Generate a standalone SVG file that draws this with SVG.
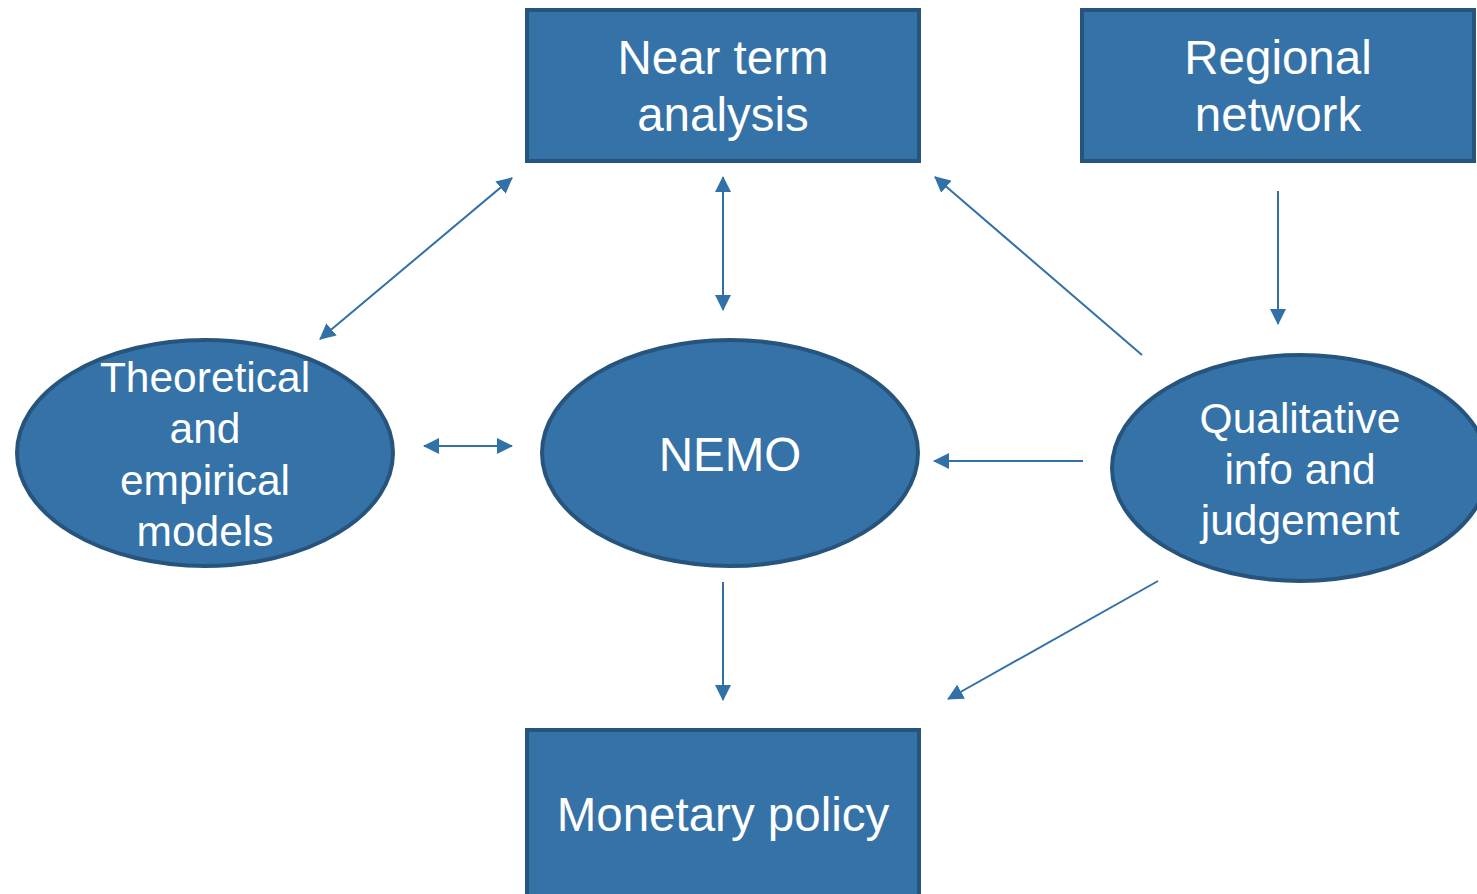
<svg xmlns="http://www.w3.org/2000/svg" width="1477" height="894" viewBox="0 0 1477 894">
  <style>
    .box { fill: #3572a7; stroke: #27547c; stroke-width: 4; }
    .lbl { fill: #ffffff; font-family: "Liberation Sans", Arial, sans-serif; text-anchor: middle; }
    .big { font-size: 47.5px; }
    .small { font-size: 42.5px; }
    .conn { stroke: #3270a8; stroke-width: 2; fill: none; }
  </style>
  <defs>
    <marker id="head" viewBox="0 0 16 16" refX="15" refY="8" markerWidth="16" markerHeight="16" markerUnits="userSpaceOnUse" orient="auto-start-reverse">
      <path d="M0,0 L16,8 L0,16 Z" fill="#3270a8"/>
    </marker>
  </defs>
  <rect width="1477" height="894" fill="#ffffff"/>

  <g id="near-term">
    <rect class="box" x="527" y="10" width="392" height="151"/>
    <text class="lbl big" x="723" y="74">Near term</text>
    <text class="lbl big" x="723" y="131">analysis</text>
  </g>

  <g id="regional">
    <rect class="box" x="1082" y="10" width="392" height="151"/>
    <text class="lbl big" x="1278" y="74">Regional</text>
    <text class="lbl big" x="1278" y="131">network</text>
  </g>

  <g id="theoretical">
    <ellipse class="box" cx="205" cy="453" rx="188" ry="113"/>
    <text class="lbl small" x="205" y="392">Theoretical</text>
    <text class="lbl small" x="205" y="443">and</text>
    <text class="lbl small" x="205" y="495">empirical</text>
    <text class="lbl small" x="205" y="546">models</text>
  </g>

  <g id="nemo">
    <ellipse class="box" cx="730" cy="453" rx="188" ry="113"/>
    <text class="lbl big" x="730" y="471">NEMO</text>
  </g>

  <g id="qualitative">
    <ellipse class="box" cx="1300" cy="468" rx="188" ry="113"/>
    <text class="lbl small" x="1300" y="433">Qualitative</text>
    <text class="lbl small" x="1300" y="484">info and</text>
    <text class="lbl small" x="1300" y="535">judgement</text>
  </g>

  <g id="monetary">
    <rect class="box" x="527" y="730" width="392" height="180"/>
    <text class="lbl big" x="723" y="831">Monetary policy</text>
  </g>

  <g id="connectors">
    <line class="conn" x1="320" y1="339" x2="512" y2="178" marker-start="url(#head)" marker-end="url(#head)"/>
    <line class="conn" x1="723" y1="177" x2="723" y2="310" marker-start="url(#head)" marker-end="url(#head)"/>
    <line class="conn" x1="1142" y1="355" x2="935" y2="177" marker-end="url(#head)"/>
    <line class="conn" x1="1278" y1="191" x2="1278" y2="324" marker-end="url(#head)"/>
    <line class="conn" x1="424" y1="446" x2="512" y2="446" marker-start="url(#head)" marker-end="url(#head)"/>
    <line class="conn" x1="1083" y1="461" x2="934" y2="461" marker-end="url(#head)"/>
    <line class="conn" x1="723" y1="582" x2="723" y2="700" marker-end="url(#head)"/>
    <line class="conn" x1="1158" y1="581" x2="948" y2="699" marker-end="url(#head)"/>
  </g>
</svg>
